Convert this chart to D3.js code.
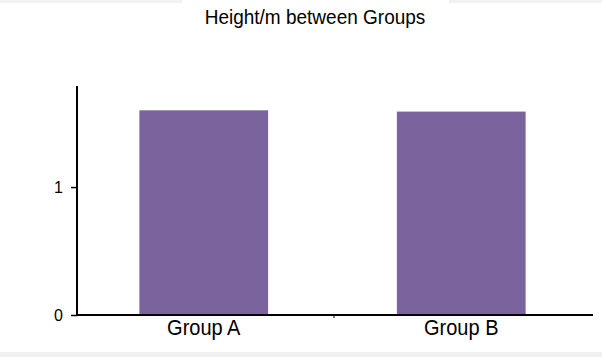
<!DOCTYPE html>
<html>
<head>
<meta charset="utf-8">
<script src="https://cdn.jsdelivr.net/npm/d3@7"></script>
<style>
  html, body { margin: 0; padding: 0; background: #fff; }
  svg { display: block; }
  text { font-family: "Liberation Sans", Arial, sans-serif; fill: #000; }
</style>
</head>
<body>
<svg id="chart" width="602" height="357"></svg>
<script>
const categories = ["Group A", "Group B"];
const heights = [1.60, 1.59];
const yTicks = [0, 1];
const yMax = 1.79;
const title = "Height/m between Groups";

const svg = d3.select("#chart");
const W = 602, H = 357;

// frame decorations (screenshot edges)
svg.append("rect").attr("x", 0).attr("y", 0).attr("width", W).attr("height", 3).attr("fill", "#f2f2f2");
svg.append("rect").attr("x", 182).attr("y", 0).attr("width", 267).attr("height", 3).attr("fill", "#fff");
svg.append("rect").attr("x", 0).attr("y", 352).attr("width", W).attr("height", 5).attr("fill", "#f0f0f0");

const x = d3.scaleBand().domain(categories).range([75, 590]).paddingInner(0.5).paddingOuter(0.25);
const y = d3.scaleLinear().domain([0, yMax]).range([315, 86]);

svg.append("g").selectAll("rect").data(heights).join("rect")
  .attr("x", (d, i) => x(categories[i]))
  .attr("width", x.bandwidth())
  .attr("y", d => y(d))
  .attr("height", d => y(0) - y(d))
  .attr("fill", "#7b649e");

// y axis
const yAxis = svg.append("g").attr("transform", "translate(77,0)")
  .call(d3.axisLeft(y).tickValues(yTicks).tickFormat(d3.format("d")).tickSize(6).tickPadding(8));
yAxis.attr("font-size", 16).attr("font-family", "Liberation Sans, Arial, sans-serif");
yAxis.select(".domain").attr("stroke", "#000").attr("stroke-width", 2).attr("d", `M0,${y(yMax)}V${y(0)}`);
yAxis.selectAll(".tick line").attr("stroke", "#000").attr("stroke-width", 1.5);
yAxis.selectAll(".tick text").attr("fill", "#000").attr("dy", "0.34em");

// x axis
const xAxis = svg.append("g").attr("transform", `translate(0,${y(0)})`)
  .call(d3.axisBottom(x).tickSize(0).tickPadding(4));
xAxis.attr("font-size", 20).attr("font-family", "Liberation Sans, Arial, sans-serif");
xAxis.select(".domain").attr("stroke", "#000").attr("stroke-width", 2).attr("d", "M77,0H593");
xAxis.selectAll(".tick text").attr("fill", "#000").attr("transform", "scale(1,1.08)");
xAxis.append("line").attr("x1", 334).attr("x2", 334).attr("y1", 0).attr("y2", 3).attr("stroke", "#000").attr("stroke-width", 1);

// title
svg.append("text").attr("transform", "translate(315,24) scale(1,1.1)").attr("text-anchor", "middle")
  .attr("font-size", 19).text(title);
</script>
</body>
</html>
